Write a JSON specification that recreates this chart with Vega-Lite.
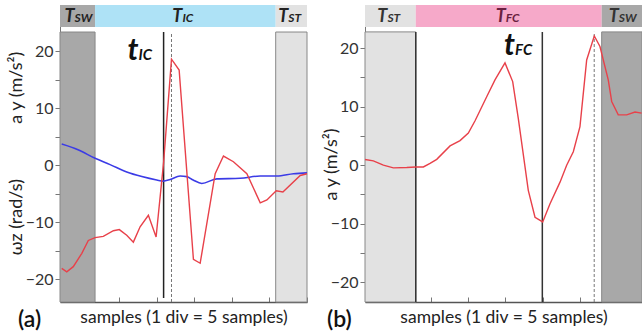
{
  "$schema": "https://vega.github.io/schema/vega-lite/v6.json",
  "background": "white",
  "padding": {"left": 7, "top": 5, "right": 0, "bottom": 0},
  "spacing": 11,
  "config": {
    "view": {"stroke": null},
    "font": "Lato",
    "axis": {"labelFont": "Lato", "titleFont": "Lato", "labelFontSize": 16, "titleFontSize": 16, "titleFontWeight": "normal", "labelColor": "#333", "titleColor": "#222", "domainColor": "#777", "tickColor": "#777", "grid": false},
    "axisY": {"tickSize": 5, "labelPadding": 2},
    "axisX": {"labels": false, "tickSize": -5, "domainColor": "#555", "domainWidth": 1.5, "titlePadding": 6}
  },
  "datasets": {
    "regions": [
      {"panel": "a", "kind": "sw", "s": 2.1, "s2": 6.77, "sub": "SW"},
      {"panel": "a", "kind": "ic", "s": 6.77, "s2": 30.83, "sub": "IC"},
      {"panel": "a", "kind": "st", "s": 30.83, "s2": 35, "sub": "ST"},
      {"panel": "b", "kind": "st", "s": 1.2, "s2": 8.0, "sub": "ST"},
      {"panel": "b", "kind": "fc", "s": 8.0, "s2": 32.9, "sub": "FC"},
      {"panel": "b", "kind": "sw", "s": 32.9, "s2": 38.3, "sub": "SW"}
    ],
    "markers": [
      {"panel": "a", "type": "event", "s": 15.9},
      {"panel": "a", "type": "peak", "s": 16.95},
      {"panel": "b", "type": "boundary", "s": 8.0},
      {"panel": "b", "type": "event", "s": 24.95},
      {"panel": "b", "type": "peak", "s": 31.9}
    ],
    "notes": [
      {"panel": "a", "s": 12.55, "v": 18.46, "sub": "IC"},
      {"panel": "b", "s": 21.3, "v": 18.85, "sub": "FC"}
    ],
    "signals": [
      {"panel": "a", "series": "red", "s": 2.33, "v": -18.1},
      {"panel": "a", "series": "red", "s": 3.0, "v": -18.7},
      {"panel": "a", "series": "red", "s": 3.87, "v": -17.8},
      {"panel": "a", "series": "red", "s": 4.99, "v": -15.5},
      {"panel": "a", "series": "red", "s": 5.87, "v": -13.2},
      {"panel": "a", "series": "red", "s": 6.77, "v": -12.7},
      {"panel": "a", "series": "red", "s": 7.87, "v": -12.5},
      {"panel": "a", "series": "red", "s": 9.21, "v": -11.5},
      {"panel": "a", "series": "red", "s": 10.0, "v": -11.3},
      {"panel": "a", "series": "red", "s": 10.99, "v": -12.3},
      {"panel": "a", "series": "red", "s": 11.87, "v": -13.5},
      {"panel": "a", "series": "red", "s": 12.77, "v": -10.8},
      {"panel": "a", "series": "red", "s": 13.87, "v": -8.8},
      {"panel": "a", "series": "red", "s": 14.9, "v": -12.6},
      {"panel": "a", "series": "red", "s": 15.9, "v": 0.5},
      {"panel": "a", "series": "red", "s": 16.95, "v": 18.6},
      {"panel": "a", "series": "red", "s": 17.97, "v": 16.7},
      {"panel": "a", "series": "red", "s": 19.87, "v": -16.5},
      {"panel": "a", "series": "red", "s": 20.77, "v": -17.2},
      {"panel": "a", "series": "red", "s": 22.77, "v": -1.5},
      {"panel": "a", "series": "red", "s": 23.87, "v": 1.6},
      {"panel": "a", "series": "red", "s": 25.2, "v": 0.6},
      {"panel": "a", "series": "red", "s": 26.99, "v": -1.5},
      {"panel": "a", "series": "red", "s": 28.77, "v": -6.6},
      {"panel": "a", "series": "red", "s": 29.66, "v": -6.1},
      {"panel": "a", "series": "red", "s": 30.9, "v": -4.5},
      {"panel": "a", "series": "red", "s": 31.79, "v": -4.7},
      {"panel": "a", "series": "red", "s": 34.1, "v": -1.8},
      {"panel": "a", "series": "red", "s": 35.0, "v": -1.5},
      {"panel": "a", "series": "blue", "s": 2.33, "v": 3.7},
      {"panel": "a", "series": "blue", "s": 4.5, "v": 2.7},
      {"panel": "a", "series": "blue", "s": 6.77, "v": 1.2},
      {"panel": "a", "series": "blue", "s": 8.77, "v": 0.1},
      {"panel": "a", "series": "blue", "s": 10.99, "v": -1.2},
      {"panel": "a", "series": "blue", "s": 13.0, "v": -2.0},
      {"panel": "a", "series": "blue", "s": 14.99, "v": -2.6},
      {"panel": "a", "series": "blue", "s": 15.87, "v": -2.8},
      {"panel": "a", "series": "blue", "s": 16.77, "v": -2.5},
      {"panel": "a", "series": "blue", "s": 18.1, "v": -1.9},
      {"panel": "a", "series": "blue", "s": 18.99, "v": -2.0},
      {"panel": "a", "series": "blue", "s": 19.83, "v": -2.6},
      {"panel": "a", "series": "blue", "s": 20.99, "v": -3.2},
      {"panel": "a", "series": "blue", "s": 22.99, "v": -2.4},
      {"panel": "a", "series": "blue", "s": 26.1, "v": -2.3},
      {"panel": "a", "series": "blue", "s": 28.77, "v": -1.9},
      {"panel": "a", "series": "blue", "s": 30.99, "v": -1.9},
      {"panel": "a", "series": "blue", "s": 33.2, "v": -1.5},
      {"panel": "a", "series": "blue", "s": 35.0, "v": -1.35},
      {"panel": "b", "series": "red", "s": 1.21, "v": 0.98},
      {"panel": "b", "series": "red", "s": 2.32, "v": 0.74},
      {"panel": "b", "series": "red", "s": 3.66, "v": 0.0},
      {"panel": "b", "series": "red", "s": 5.0, "v": -0.46},
      {"panel": "b", "series": "red", "s": 6.79, "v": -0.4},
      {"panel": "b", "series": "red", "s": 8.0, "v": -0.3},
      {"panel": "b", "series": "red", "s": 9.02, "v": -0.3},
      {"panel": "b", "series": "red", "s": 9.91, "v": 0.3},
      {"panel": "b", "series": "red", "s": 10.81, "v": 1.0},
      {"panel": "b", "series": "red", "s": 12.59, "v": 3.3},
      {"panel": "b", "series": "red", "s": 13.93, "v": 4.2},
      {"panel": "b", "series": "red", "s": 15.04, "v": 5.5},
      {"panel": "b", "series": "red", "s": 15.94, "v": 7.6},
      {"panel": "b", "series": "red", "s": 17.5, "v": 11.7},
      {"panel": "b", "series": "red", "s": 18.61, "v": 14.6},
      {"panel": "b", "series": "red", "s": 19.95, "v": 17.5},
      {"panel": "b", "series": "red", "s": 20.98, "v": 14.3},
      {"panel": "b", "series": "red", "s": 21.73, "v": 8.0},
      {"panel": "b", "series": "red", "s": 23.07, "v": -4.3},
      {"panel": "b", "series": "red", "s": 23.97, "v": -8.9},
      {"panel": "b", "series": "red", "s": 25.0, "v": -9.7},
      {"panel": "b", "series": "red", "s": 25.98, "v": -6.6},
      {"panel": "b", "series": "red", "s": 27.32, "v": -2.9},
      {"panel": "b", "series": "red", "s": 28.21, "v": 0.0},
      {"panel": "b", "series": "red", "s": 29.1, "v": 2.3},
      {"panel": "b", "series": "red", "s": 29.99, "v": 6.6},
      {"panel": "b", "series": "red", "s": 30.89, "v": 18.0},
      {"panel": "b", "series": "red", "s": 31.91, "v": 22.1},
      {"panel": "b", "series": "red", "s": 32.67, "v": 20.3},
      {"panel": "b", "series": "red", "s": 33.78, "v": 14.6},
      {"panel": "b", "series": "red", "s": 34.24, "v": 10.9},
      {"panel": "b", "series": "red", "s": 35.12, "v": 8.6},
      {"panel": "b", "series": "red", "s": 36.25, "v": 8.6},
      {"panel": "b", "series": "red", "s": 37.36, "v": 9.1},
      {"panel": "b", "series": "red", "s": 38.25, "v": 8.9}
    ]
  },
  "hconcat": [
    {
      "width": 247,
      "height": 297,
      "title": {"text": "(a)", "orient": "bottom", "anchor": "start", "frame": "group", "dx": -42, "offset": -17, "fontSize": 23, "fontWeight": 600, "font": "Lato", "color": "#111"},
      "encoding": {
        "x": {"field": "s", "type": "quantitative", "scale": {"domain": [2.1, 35], "nice": false, "zero": false},
              "axis": {"values": [5, 10, 15, 20, 25, 30, 35], "title": "samples (1 div = 5 samples)", "titleFontSize": 17.5}},
        "y": {"field": "v", "type": "quantitative", "scale": {"domain": [-24, 28.1], "nice": false, "zero": false},
              "axis": {"values": [-20, -15, -10, -5, 0, 5, 10, 15, 20], "labelExpr": "datum.value % 10 === 0 ? datum.label : ''",
                       "title": "ωz (rad/s)\u00a0\u00a0\u00a0\u00a0\u00a0\u00a0\u00a0\u00a0\u00a0\u00a0\u00a0\u00a0a y (m/s²)", "titleFontSize": 18, "titleX": -35, "titleY": 148, "titleAngle": 270, "titleBaseline": "bottom"}}
      },
      "layer": [
        {
          "data": {"name": "regions"},
          "transform": [{"filter": "datum.panel === 'a' && datum.kind !== 'ic'"}, {"calculate": "-24", "as": "v"}, {"calculate": "23.36", "as": "v2"}],
          "mark": {"type": "rect", "stroke": "#888", "strokeWidth": 1},
          "encoding": {
            "x2": {"field": "s2"},
            "y2": {"field": "v2"},
            "fill": {"field": "kind", "type": "nominal", "legend": null,
                     "scale": {"domain": ["sw", "st", "ic", "fc"], "range": ["#a8a8a8", "#e2e2e2", "#aee2f6", "#f6a9c9"]}}
          }
        },
        {
          "data": {"name": "regions"},
          "transform": [{"filter": "datum.panel === 'a'"}, {"calculate": "24.24", "as": "v"}, {"calculate": "28.1", "as": "v2"}],
          "mark": {"type": "rect"},
          "encoding": {
            "x2": {"field": "s2"},
            "y2": {"field": "v2"},
            "fill": {"field": "kind", "type": "nominal", "legend": null}
          }
        },
        {
          "data": {"name": "regions"},
          "transform": [{"filter": "datum.panel === 'a'"}, {"calculate": "(datum.s + datum.s2) / 2", "as": "s"}, {"calculate": "26.17", "as": "v"}],
          "mark": {"type": "text", "align": "right", "baseline": "alphabetic", "dx": -3, "dy": 6, "fontSize": 18, "fontWeight": "bold", "fontStyle": "italic", "font": "Lato", "color": "#222"},
          "encoding": {"text": {"value": "T"}}
        },
        {
          "data": {"name": "regions"},
          "transform": [{"filter": "datum.panel === 'a'"}, {"calculate": "(datum.s + datum.s2) / 2", "as": "s"}, {"calculate": "26.17", "as": "v"}],
          "mark": {"type": "text", "align": "left", "baseline": "alphabetic", "dx": -3, "dy": 6, "fontSize": 12, "fontWeight": "bold", "fontStyle": "italic", "font": "Lato", "color": "#222"},
          "encoding": {"text": {"field": "sub"}}
        },
        {
          "data": {"name": "markers"},
          "transform": [{"filter": "datum.panel === 'a' && datum.type === 'peak'"}, {"calculate": "-24", "as": "v"}, {"calculate": "23.36", "as": "v2"}],
          "mark": {"type": "rule", "color": "#777", "strokeWidth": 1, "strokeDash": [3, 2]},
          "encoding": {"y2": {"field": "v2"}}
        },
        {
          "data": {"name": "markers"},
          "transform": [{"filter": "datum.panel === 'a' && datum.type === 'event'"}, {"calculate": "-23.3", "as": "v"}, {"calculate": "23.36", "as": "v2"}],
          "mark": {"type": "rule", "color": "#222", "strokeWidth": 1.5},
          "encoding": {"y2": {"field": "v2"}}
        },
        {
          "data": {"name": "signals"},
          "transform": [{"filter": "datum.panel === 'a' && datum.series === 'blue'"}],
          "mark": {"type": "line", "color": "#3b3be6", "strokeWidth": 1.6, "interpolate": "monotone"},
          "encoding": {}
        },
        {
          "data": {"name": "signals"},
          "transform": [{"filter": "datum.panel === 'a' && datum.series === 'red'"}],
          "mark": {"type": "line", "color": "#e8414a", "strokeWidth": 1.4},
          "encoding": {}
        },
        {
          "data": {"name": "notes"},
          "transform": [{"filter": "datum.panel === 'a'"}],
          "mark": {"type": "text", "align": "right", "baseline": "alphabetic", "fontSize": 30, "fontWeight": "bold", "fontStyle": "italic", "font": "Lato", "color": "#111"},
          "encoding": {"text": {"value": "t"}}
        },
        {
          "data": {"name": "notes"},
          "transform": [{"filter": "datum.panel === 'a'"}],
          "mark": {"type": "text", "align": "left", "baseline": "alphabetic", "fontSize": 15, "fontWeight": "bold", "fontStyle": "italic", "font": "Lato", "color": "#111"},
          "encoding": {"text": {"field": "sub"}}
        }
      ]
    },
    {
      "width": 277,
      "height": 297,
      "title": {"text": "(b)", "orient": "bottom", "anchor": "start", "frame": "group", "dx": -38, "offset": -17, "fontSize": 23, "fontWeight": 600, "font": "Lato", "color": "#111"},
      "encoding": {
        "x": {"field": "s", "type": "quantitative", "scale": {"domain": [1.2, 38.3], "nice": false, "zero": false},
              "axis": {"values": [5, 10, 15, 20, 25, 30, 35], "title": "samples (1 div = 5 samples)", "titleFontSize": 17.5}},
        "y": {"field": "v", "type": "quantitative", "scale": {"domain": [-23.4, 27.4], "nice": false, "zero": false},
              "axis": {"values": [-20, -15, -10, -5, 0, 5, 10, 15, 20], "labelExpr": "datum.value % 10 === 0 ? datum.label : ''",
                       "title": "a y (m/s²)", "titleFontSize": 18, "titleX": -25, "titleY": 159, "titleAngle": 270, "titleBaseline": "bottom"}}
      },
      "layer": [
        {
          "data": {"name": "regions"},
          "transform": [{"filter": "datum.panel === 'b' && datum.kind !== 'fc'"}, {"calculate": "-23.4", "as": "v"}, {"calculate": "22.8", "as": "v2"}],
          "mark": {"type": "rect", "stroke": "#888", "strokeWidth": 1},
          "encoding": {
            "x2": {"field": "s2"},
            "y2": {"field": "v2"},
            "fill": {"field": "kind", "type": "nominal", "legend": null,
                     "scale": {"domain": ["sw", "st", "ic", "fc"], "range": ["#a8a8a8", "#e2e2e2", "#aee2f6", "#f6a9c9"]}}
          }
        },
        {
          "data": {"name": "regions"},
          "transform": [{"filter": "datum.panel === 'b'"}, {"calculate": "23.64", "as": "v"}, {"calculate": "27.4", "as": "v2"}],
          "mark": {"type": "rect"},
          "encoding": {
            "x2": {"field": "s2"},
            "y2": {"field": "v2"},
            "fill": {"field": "kind", "type": "nominal", "legend": null}
          }
        },
        {
          "data": {"name": "regions"},
          "transform": [{"filter": "datum.panel === 'b'"}, {"calculate": "(datum.s + datum.s2) / 2", "as": "s"}, {"calculate": "25.52", "as": "v"}],
          "mark": {"type": "text", "align": "right", "baseline": "alphabetic", "dx": -3, "dy": 6, "fontSize": 18, "fontWeight": "bold", "fontStyle": "italic", "font": "Lato"},
          "encoding": {"text": {"value": "T"},
                       "color": {"condition": {"test": "datum.kind === 'fc'", "value": "#6a1f40"}, "value": "#333"}}
        },
        {
          "data": {"name": "regions"},
          "transform": [{"filter": "datum.panel === 'b'"}, {"calculate": "(datum.s + datum.s2) / 2", "as": "s"}, {"calculate": "25.52", "as": "v"}],
          "mark": {"type": "text", "align": "left", "baseline": "alphabetic", "dx": -3, "dy": 6, "fontSize": 12, "fontWeight": "bold", "fontStyle": "italic", "font": "Lato"},
          "encoding": {"text": {"field": "sub"},
                       "color": {"condition": {"test": "datum.kind === 'fc'", "value": "#6a1f40"}, "value": "#333"}}
        },
        {
          "data": {"name": "markers"},
          "transform": [{"filter": "datum.panel === 'b' && datum.type === 'peak'"}, {"calculate": "-23.4", "as": "v"}, {"calculate": "22.8", "as": "v2"}],
          "mark": {"type": "rule", "color": "#777", "strokeWidth": 1, "strokeDash": [3, 2]},
          "encoding": {"y2": {"field": "v2"}}
        },
        {
          "data": {"name": "markers"},
          "transform": [{"filter": "datum.panel === 'b' && datum.type !== 'peak'"}, {"calculate": "-23.4", "as": "v"}, {"calculate": "22.8", "as": "v2"}],
          "mark": {"type": "rule", "color": "#333", "strokeWidth": 1.5},
          "encoding": {"y2": {"field": "v2"}}
        },
        {
          "data": {"name": "signals"},
          "transform": [{"filter": "datum.panel === 'b' && datum.series === 'red'"}],
          "mark": {"type": "line", "color": "#e8414a", "strokeWidth": 1.4},
          "encoding": {}
        },
        {
          "data": {"name": "notes"},
          "transform": [{"filter": "datum.panel === 'b'"}],
          "mark": {"type": "text", "align": "right", "baseline": "alphabetic", "fontSize": 30, "fontWeight": "bold", "fontStyle": "italic", "font": "Lato", "color": "#111"},
          "encoding": {"text": {"value": "t"}}
        },
        {
          "data": {"name": "notes"},
          "transform": [{"filter": "datum.panel === 'b'"}],
          "mark": {"type": "text", "align": "left", "baseline": "alphabetic", "fontSize": 15, "fontWeight": "bold", "fontStyle": "italic", "font": "Lato", "color": "#111"},
          "encoding": {"text": {"field": "sub"}}
        }
      ]
    }
  ]
}
